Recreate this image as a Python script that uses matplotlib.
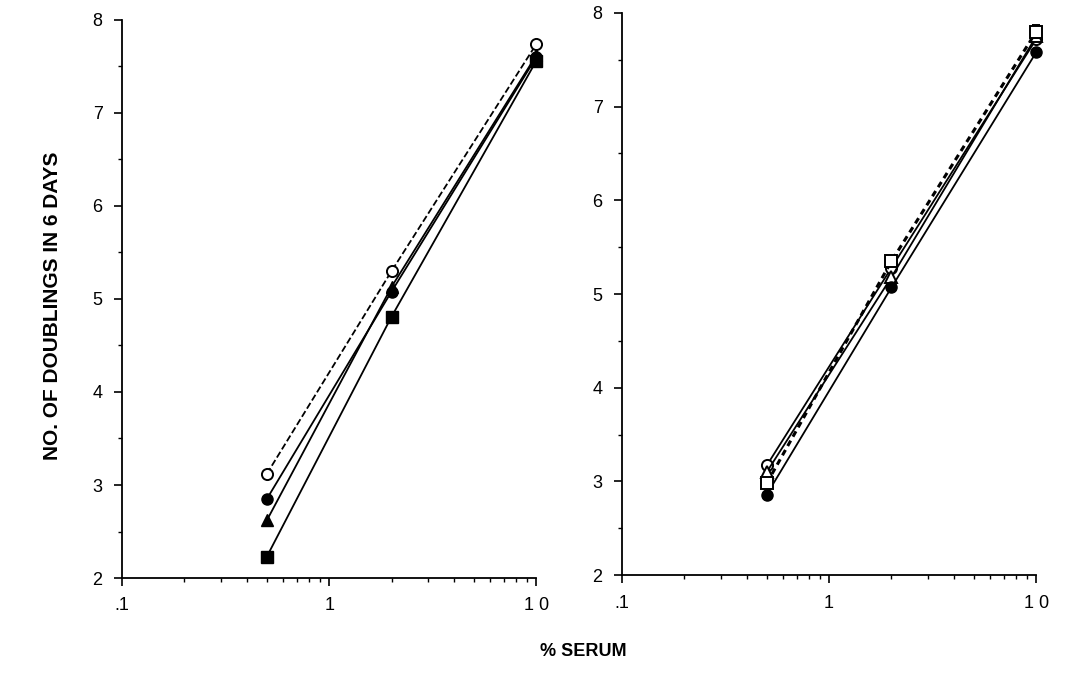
import numpy as np
import matplotlib
matplotlib.use("Agg")
import matplotlib.pyplot as plt
from matplotlib.ticker import FixedLocator, NullFormatter, MultipleLocator

plt.rcParams['font.family'] = ['Liberation Sans', 'DejaVu Sans']

# % serum concentrations
serum = [0.5, 2, 10]

# left panel: number of doublings in 6 days
left_open_circle = [3.12, 5.30, 7.74]
left_filled_circle = [2.85, 5.08, 7.60]
left_triangle = [2.62, 5.13, 7.62]
left_square = [2.23, 4.81, 7.56]

# right panel
right_open_circle = [3.17, 5.28, 7.72]
right_triangle = [3.10, 5.18, 7.75]
right_square = [2.98, 5.35, 7.80]
right_filled_circle = [2.86, 5.07, 7.58]
right_square_err = [0.03, 0.03, 0.07]

xtick_vals = [0.1, 1, 10]
xtick_labels = [".1", "1", "1 0"]


def style_axis(ax):
    ax.set_xscale("log")
    ax.set_xlim(0.1, 10)
    ax.set_ylim(2, 8)
    for s in ("top", "right"):
        ax.spines[s].set_visible(False)
    ax.spines["left"].set_linewidth(1.3)
    ax.spines["bottom"].set_linewidth(1.3)
    ax.xaxis.set_major_locator(FixedLocator(xtick_vals))
    ax.set_xticklabels(xtick_labels)
    minors = [m * 10.0**e for e in (-1, 0) for m in range(2, 10)]
    ax.xaxis.set_minor_locator(FixedLocator(minors))
    ax.xaxis.set_minor_formatter(NullFormatter())
    ax.yaxis.set_major_locator(MultipleLocator(1))
    ax.yaxis.set_minor_locator(MultipleLocator(0.5))
    ax.tick_params(which="major", direction="out", length=6, width=1.2,
                   labelsize=13, pad=8)
    ax.tick_params(which="minor", direction="out", length=3, width=1.0)


fig = plt.figure(figsize=(10.65, 6.79), dpi=100)
ax1 = fig.add_axes([0.1146, 0.1487, 0.389, 0.822])
ax2 = fig.add_axes([0.584, 0.153, 0.389, 0.828])

kw = dict(color="black", lw=1.3, ms=8, clip_on=False)
ax1.plot(serum, left_open_circle, ls="--", marker="o", mfc="white", mew=1.4, **kw)
ax1.plot(serum, left_filled_circle, ls="-", marker="o", **kw)
ax1.plot(serum, left_triangle, ls="-", marker="^", **kw)
ax1.plot(serum, left_square, ls="-", marker="s", **kw)
style_axis(ax1)

ax2.plot(serum, right_open_circle, ls="-", marker="o", mfc="white", mew=1.4, **kw)
ax2.plot(serum, right_triangle, ls="-", marker="^", mfc="white", mew=1.4, **kw)
eb = ax2.errorbar(serum, right_square, yerr=right_square_err, ls=(0, (2, 1.5)), lw=2.2,
                  marker="s", mfc="white", mew=1.4, ms=8, color="black", capsize=3)
for art in eb.lines[0:1] + tuple(eb.lines[1]) + tuple(eb.lines[2]):
    art.set_clip_on(False)
ax2.plot(serum, right_filled_circle, ls="-", marker="o", **kw)
style_axis(ax2)

fig.text(0.049, 0.55, "NO. OF DOUBLINGS IN 6 DAYS", rotation=90, ha="center",
         va="center", fontsize=15, fontweight="bold")
fig.text(0.548, 0.04, "% SERUM", ha="center", va="center", fontsize=13,
         fontweight="bold")

fig.savefig("out.png", dpi=100)
